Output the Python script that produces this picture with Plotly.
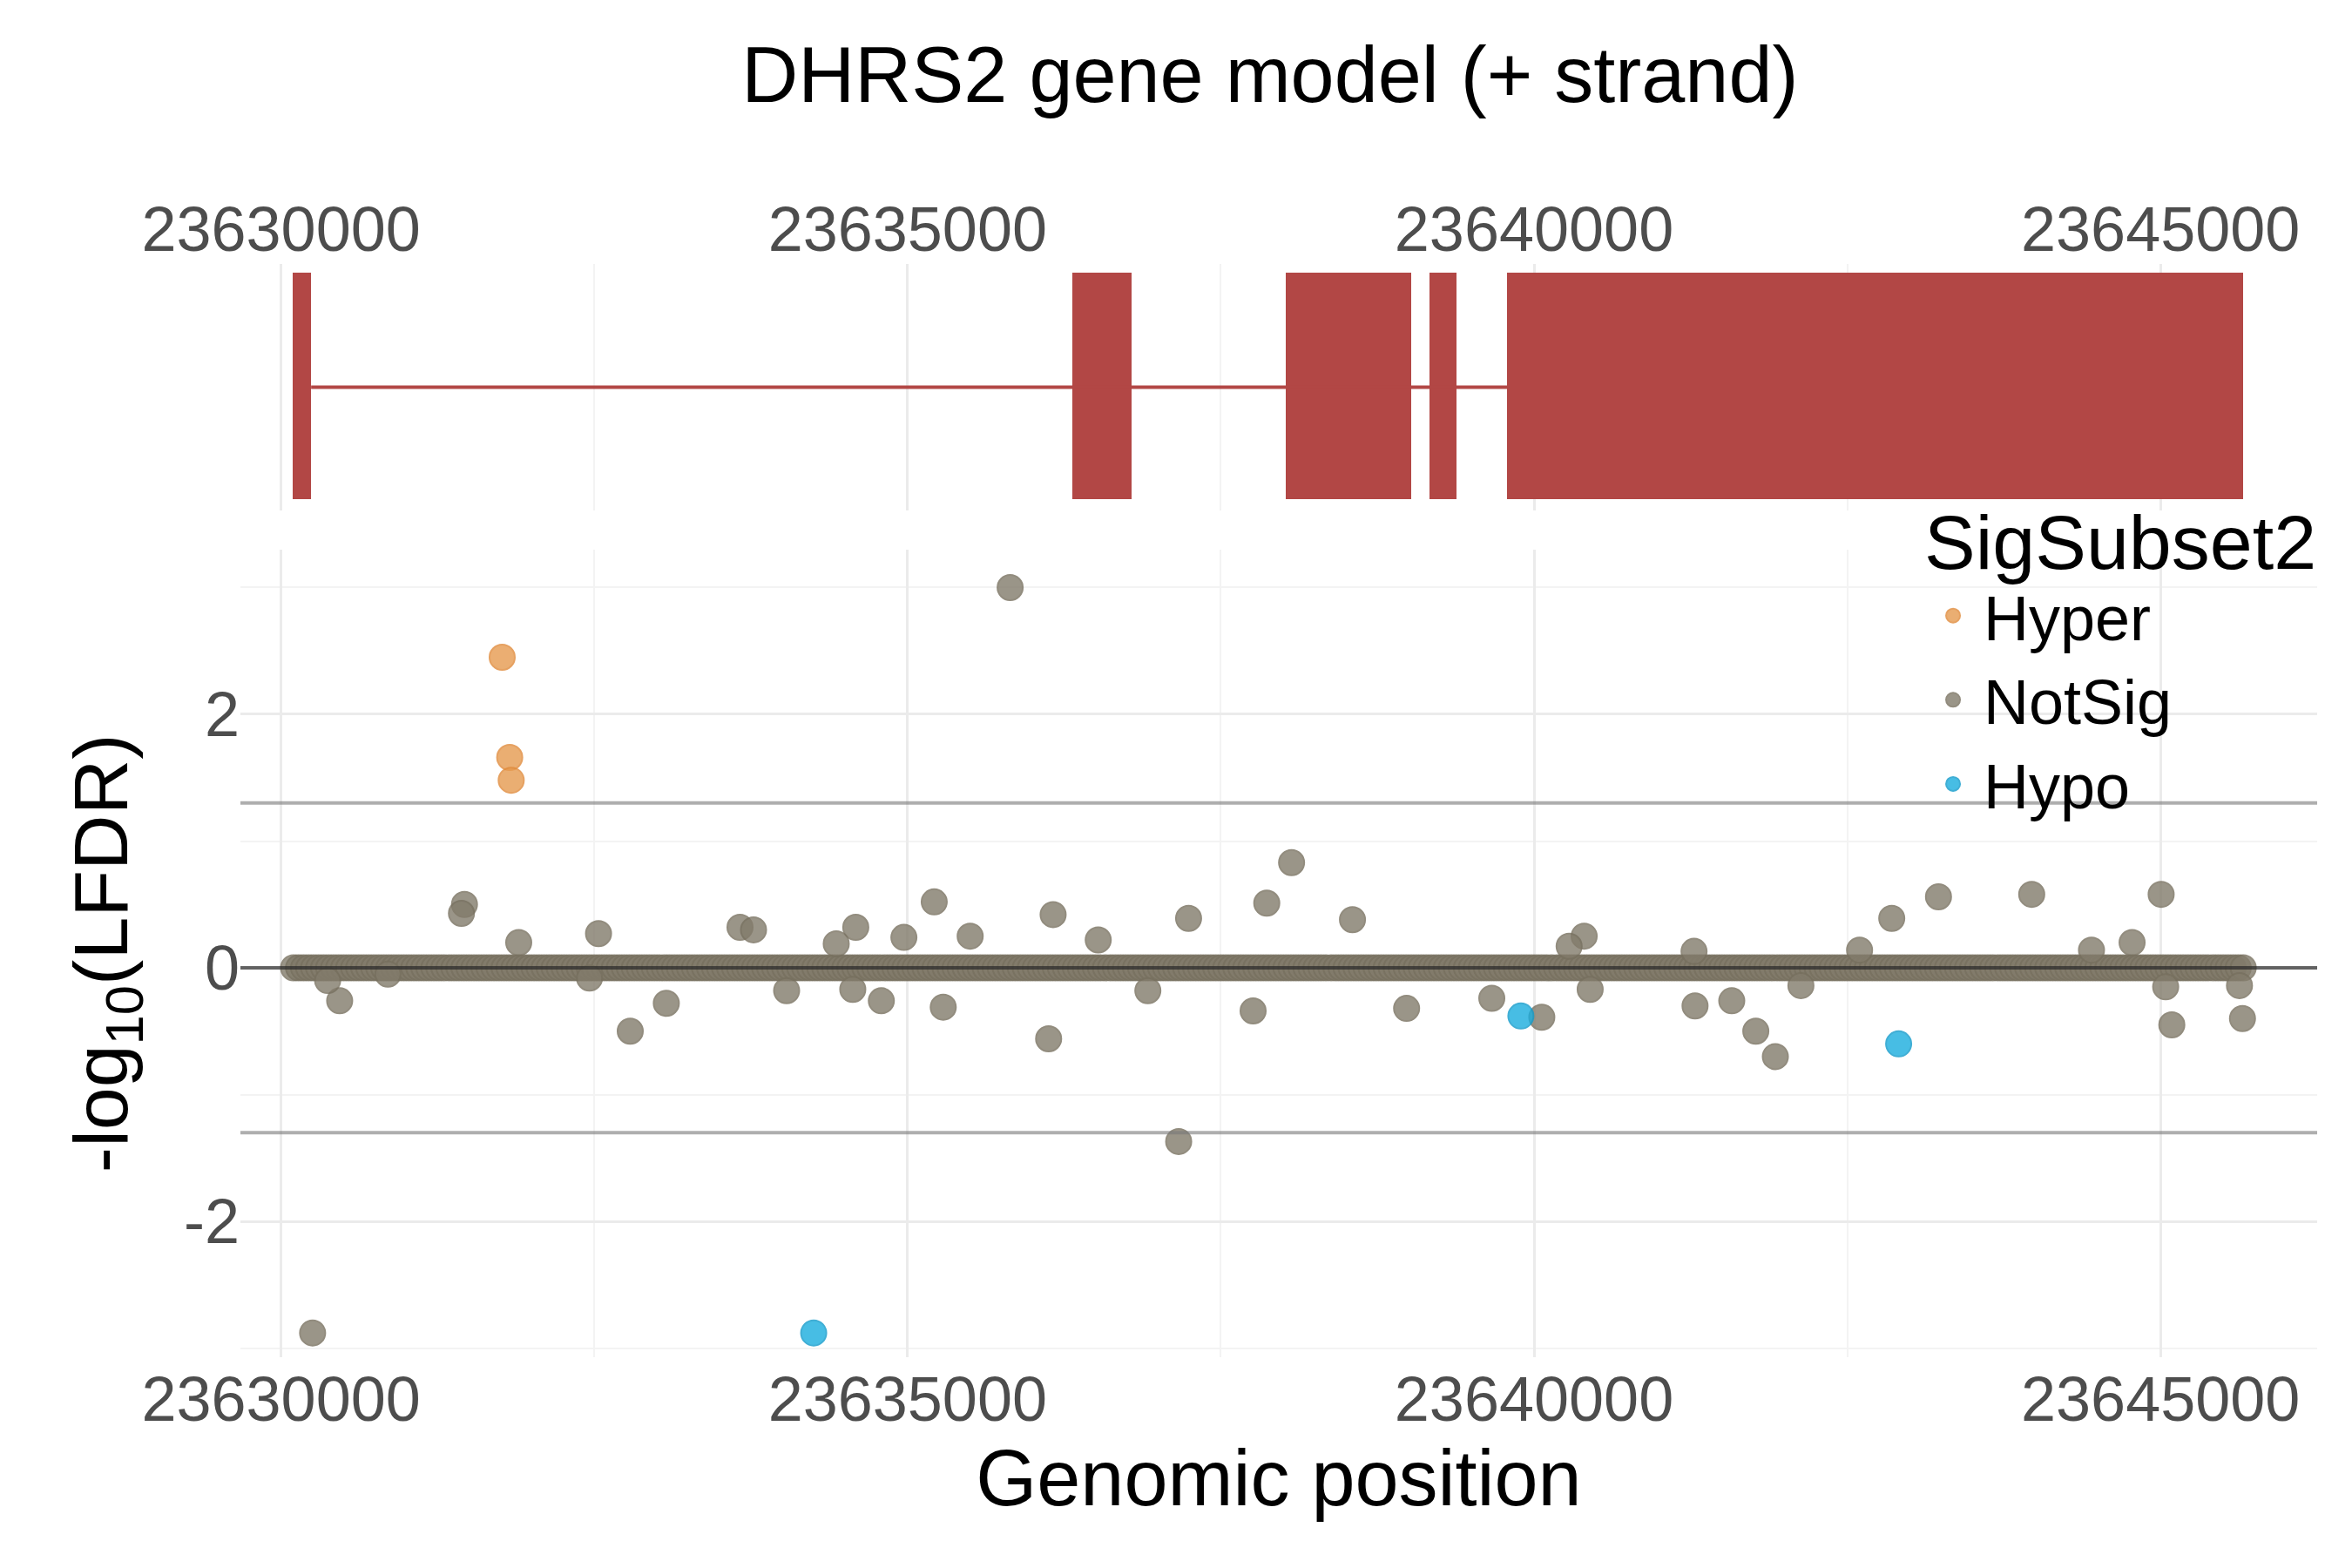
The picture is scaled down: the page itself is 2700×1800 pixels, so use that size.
import numpy as np
import plotly.graph_objects as go

exon_start = [23630096, 23636317, 23638022, 23639163, 23639787]
exon_end = [23630240, 23636785, 23639019, 23639379, 23645660]

hyper_x = [23631765, 23631825, 23631837]
hyper_y = [2.45, 1.66, 1.48]
hypo_x = [23634251, 23639895, 23642910]
hypo_y = [-2.88, -0.38, -0.60]
ns_x = [23630252, 23635819, 23637164, 23638065, 23631464, 23631440, 23635213, 23636162, 23636126,
        23632787, 23633075, 23630468, 23645005, 23643972, 23643228, 23642855, 23641926, 23641770,
        23645090, 23645654, 23640062, 23641285, 23637758, 23637243, 23637867, 23638551, 23634791,
        23635285, 23634587, 23631897, 23632534, 23633663, 23633771, 23634431, 23634971, 23635500,
        23636522, 23638983, 23639663, 23640400, 23640280, 23641578, 23641277, 23642598, 23644773,
        23644449, 23642130, 23640448, 23645041, 23645630, 23634035, 23634563, 23632462, 23636918,
        23630372, 23630853]
ns_y = [-2.88, 3.0, -1.37, 0.83, 0.5, 0.43, 0.52, 0.42, -0.56, -0.5, -0.28, -0.26, 0.58, 0.58, 0.56,
        0.39, -0.70, -0.5, -0.45, -0.4, -0.39, -0.3, -0.34, 0.39, 0.51, 0.38, -0.26, -0.31, 0.32, 0.2,
        0.27, 0.32, 0.3, 0.19, 0.24, 0.25, 0.22, -0.32, -0.24, 0.25, 0.17, -0.26, 0.13, 0.14, 0.2, 0.14,
        -0.14, -0.17, -0.15, -0.14, -0.18, -0.17, -0.08, -0.18, -0.1, -0.05]
# dense band of near-zero NotSig sites
band_x = np.arange(23630100, 23645700, 40)
band_y = np.zeros(len(band_x))

x_ticks = [23630000, 23635000, 23640000, 23645000]
xr = [23629676, 23646250]

C_HYPER = "#E69A4F"
C_NS = "#827B6B"
C_HYPO = "#1AADDE"
tick_font = dict(family="Liberation Sans, Arial", size=72, color="#4D4D4D")

fig = go.Figure()

fig.add_trace(go.Scatter(x=[exon_end[0], exon_start[-1]], y=[0.5, 0.5], mode="lines",
                         line=dict(color="#B24745", width=4), xaxis="x2", yaxis="y2",
                         showlegend=False, hoverinfo="skip"))
fig.add_trace(go.Bar(x=[(s + e) / 2 for s, e in zip(exon_start, exon_end)],
                     width=[e - s for s, e in zip(exon_start, exon_end)],
                     y=[0.92] * len(exon_start), base=[0.043] * len(exon_start),
                     marker=dict(color="#B24745", line=dict(width=0)),
                     xaxis="x2", yaxis="y2", showlegend=False))

mk = dict(size=29, opacity=0.8)
fig.add_trace(go.Scatter(x=list(band_x) + ns_x, y=list(band_y) + ns_y, mode="markers", name="NotSig",
                         marker=dict(color=C_NS, line=dict(width=2, color="#77705F"), **mk),
                         legendrank=2))
fig.add_trace(go.Scatter(x=hyper_x, y=hyper_y, mode="markers", name="Hyper",
                         marker=dict(color=C_HYPER, line=dict(width=2, color="#E08A3A"), **mk),
                         legendrank=1))
fig.add_trace(go.Scatter(x=hypo_x, y=hypo_y, mode="markers", name="Hypo",
                         marker=dict(color=C_HYPO, line=dict(width=2, color="#119BCB"), **mk),
                         legendrank=3))

fig.add_hline(y=0, line=dict(color="rgba(40,40,40,0.7)", width=4), xref="x", yref="y")
for v in (1.3, -1.3):
    fig.add_hline(y=v, line=dict(color="rgba(120,120,120,0.6)", width=4))

grid = dict(showgrid=True, gridcolor="#EBEBEB", gridwidth=3, zeroline=False,
            minor=dict(dtick=2500, showgrid=True, gridcolor="#F3F3F3", gridwidth=2))

fig.update_layout(
    width=2700, height=1800, plot_bgcolor="white", paper_bgcolor="white",
    margin=dict(l=268, r=48, t=0, b=0), bargap=0,
    font=dict(family="Liberation Sans, Arial", color="black"),
    title=dict(text="DHRS2 gene model (+ strand)", x=0.537, xanchor="center", y=0.957,
               yanchor="middle", font=dict(size=90)),
    xaxis=dict(domain=[0, 1], range=xr, tickvals=x_ticks, ticktext=[str(t) for t in x_ticks],
               tickfont=tick_font, ticks="", anchor="y",
               title=dict(text="Genomic position", font=dict(size=90), standoff=20), **grid),
    yaxis=dict(domain=[0.139, 0.654], range=[-3.07, 3.3], tickvals=[-2, 0, 2],
               ticktext=["-2", "0", "2"], tickfont=tick_font, ticks="",
               title=dict(text="-log<sub>10</sub>(LFDR)", font=dict(size=88), standoff=35),
               showgrid=True, gridcolor="#EBEBEB", gridwidth=3, zeroline=False,
               minor=dict(dtick=1, showgrid=True, gridcolor="#F3F3F3", gridwidth=2)),
    xaxis2=dict(domain=[0, 1], range=xr, tickvals=x_ticks, ticktext=[str(t) for t in x_ticks],
                tickfont=tick_font, ticks="", side="top", anchor="y2", **grid),
    yaxis2=dict(domain=[0.679, 0.836], range=[0, 1], showticklabels=False, showgrid=False,
                zeroline=False, anchor="x2"),
    legend=dict(x=0.81, y=0.705, xanchor="left", yanchor="top", bgcolor="rgba(0,0,0,0)",
                title=dict(text="SigSubset2", font=dict(size=88)), font=dict(size=72),
                itemsizing="trace", tracegroupgap=0, itemwidth=60),
)
fig.write_html("out.html")
